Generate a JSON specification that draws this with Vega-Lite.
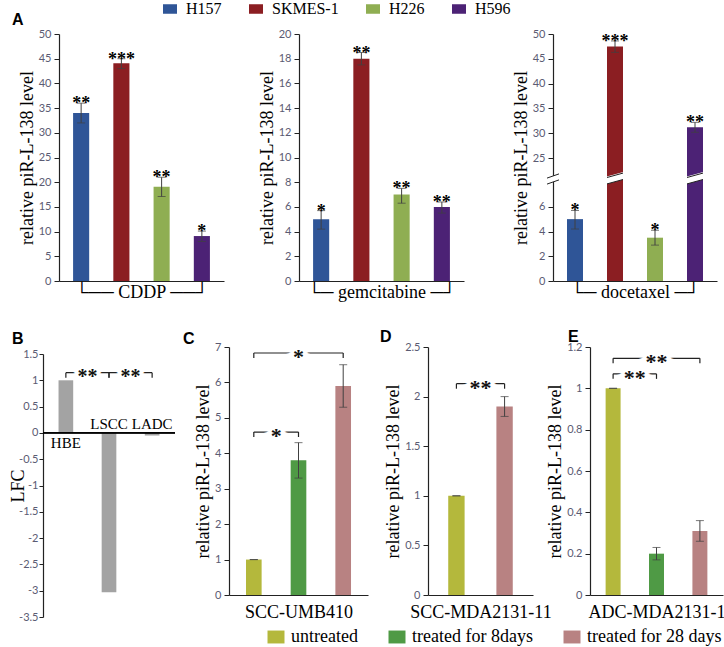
{
  "$schema": "https://vega.github.io/schema/vega-lite/v6.json",
  "padding": {"left": 9, "top": 1, "right": 0, "bottom": 0},
  "spacing": 28,
  "resolve": {"scale": {"color": "independent"}, "legend": {"color": "independent"}},
  "datasets": {
    "a": [
      {"drug": "CDDP", "line": "H157", "value": 34, "lo": 32, "hi": 36, "sig": "**"},
      {"drug": "CDDP", "line": "SKMES-1", "value": 44.1, "lo": 43, "hi": 45, "sig": "***"},
      {"drug": "CDDP", "line": "H226", "value": 19.1, "lo": 17.1, "hi": 21, "sig": "**"},
      {"drug": "CDDP", "line": "H596", "value": 9.1, "lo": 8, "hi": 10.1, "sig": "*"},
      {"drug": "gemcitabine", "line": "H157", "value": 5, "lo": 4.2, "hi": 5.7, "sig": "*"},
      {"drug": "gemcitabine", "line": "SKMES-1", "value": 18, "lo": 17.5, "hi": 18.5, "sig": "**"},
      {"drug": "gemcitabine", "line": "H226", "value": 7, "lo": 6.3, "hi": 7.5, "sig": "**"},
      {"drug": "gemcitabine", "line": "H596", "value": 6, "lo": 5.5, "hi": 6.4, "sig": "**"},
      {"drug": "docetaxel", "line": "H157", "value": 5, "lo": 4.2, "hi": 5.7, "sig": "*"},
      {"drug": "docetaxel", "line": "SKMES-1", "value": 47.5, "lo": 46.3, "hi": 48.6, "sig": "***"},
      {"drug": "docetaxel", "line": "H226", "value": 3.5, "lo": 2.9, "hi": 4.1, "sig": "*"},
      {"drug": "docetaxel", "line": "H596", "value": 31.2, "lo": 30.2, "hi": 32.2, "sig": "**"}
    ],
    "b": [
      {"group": "HBE", "lfc": 1},
      {"group": "LSCC", "lfc": -3.03},
      {"group": "LADC", "lfc": -0.05}
    ],
    "cde": [
      {"cell": "C", "treat": "untreated", "value": 1, "lo": 1, "hi": 1},
      {"cell": "C", "treat": "treated for 8days", "value": 3.8, "lo": 3.3, "hi": 4.3},
      {"cell": "C", "treat": "treated for 28 days", "value": 5.9, "lo": 5.3, "hi": 6.5},
      {"cell": "D", "treat": "untreated", "value": 1, "lo": 1, "hi": 1},
      {"cell": "D", "treat": "treated for 28 days", "value": 1.9, "lo": 1.8, "hi": 2.0},
      {"cell": "E", "treat": "untreated", "value": 1, "lo": 1, "hi": 1},
      {"cell": "E", "treat": "treated for 8days", "value": 0.2, "lo": 0.17, "hi": 0.23},
      {"cell": "E", "treat": "treated for 28 days", "value": 0.31, "lo": 0.26, "hi": 0.36}
    ],
    "brk": [
      {"panel": "B", "from": "HBE", "to": "LSCC", "level": 1.145, "sig": "**"},
      {"panel": "B", "from": "LSCC", "to": "LADC", "level": 1.145, "sig": "**"},
      {"panel": "C", "from": "untreated", "to": "treated for 28 days", "level": 6.83, "sig": "*"},
      {"panel": "C", "from": "untreated", "to": "treated for 8days", "level": 4.6, "sig": "*"},
      {"panel": "D", "from": "untreated", "to": "treated for 28 days", "level": 2.13, "sig": "**"},
      {"panel": "E", "from": "untreated", "to": "treated for 28 days", "level": 1.145, "sig": "**"},
      {"panel": "E", "from": "untreated", "to": "treated for 8days", "level": 1.07, "sig": "**"}
    ]
  },
  "vconcat": [
    {
      "bounds": "flush",
      "spacing": 15,
      "hconcat": [
        {"width": 1, "height": 10, "data": {"values": [{"k": 0}]}, "mark": {"type": "point", "opacity": 0}, "encoding": {}},
        {
          "width": 225, "height": 247,
          "title": {"text": "A", "anchor": "start", "frame": "group", "dx": -47, "offset": -13, "baseline": "alphabetic"},
          "data": {"name": "a"},
          "transform": [{"filter": "datum.drug === 'CDDP'"}],
          "encoding": {
            "x": {"field": "line", "type": "nominal", "scale": {"domain": ["H157", "SKMES-1", "H226", "H596"], "range": [0, 165], "paddingInner": 0.6, "paddingOuter": 0.35}, "axis": {"title": "└── CDDP ──┘", "labels": false, "ticks": false, "titlePadding": 2}}
          },
          "layer": [
            {"mark": {"type": "bar"}, "encoding": {
              "y": {"field": "value", "type": "quantitative", "title": "relative piR-L-138 level", "scale": {"domain": [0, 50], "nice": false}, "axis": {"values": [0, 5, 10, 15, 20, 25, 30, 35, 40, 45, 50], "format": "d"}},
              "color": {"field": "line", "type": "nominal", "scale": {"domain": ["H157", "SKMES-1", "H226", "H596"], "range": ["#2f5597", "#8b1e22", "#8fae52", "#4c2275"]},
                "legend": {"orient": "none", "legendX": 119, "legendY": -33, "direction": "horizontal", "columns": 4, "title": null, "symbolType": "M-1,-0.68H1V0.68H-1Z", "symbolSize": 196, "symbolStrokeWidth": 0, "labelFont": "Liberation Serif", "labelFontSize": 16, "labelColor": "#000", "labelOffset": 8, "columnPadding": 26, "padding": 0}}}},
            {"mark": {"type": "rule", "color": "#404040"}, "encoding": {"y": {"field": "lo", "type": "quantitative"}, "y2": {"field": "hi"}}},
            {"mark": {"type": "tick", "color": "#404040", "size": 8, "thickness": 1}, "encoding": {"y": {"field": "lo", "type": "quantitative"}}},
            {"mark": {"type": "tick", "color": "#404040", "size": 8, "thickness": 1}, "encoding": {"y": {"field": "hi", "type": "quantitative"}}},
            {"mark": {"type": "text", "font": "Liberation Serif", "fontSize": 18, "fontWeight": "bold", "baseline": "alphabetic", "dy": 6}, "encoding": {"y": {"field": "hi", "type": "quantitative"}, "text": {"field": "sig"}}}
          ]
        },
        {
          "width": 239, "height": 247,
          "data": {"name": "a"},
          "transform": [{"filter": "datum.drug === 'gemcitabine'"}],
          "encoding": {
            "x": {"field": "line", "type": "nominal", "scale": {"domain": ["H157", "SKMES-1", "H226", "H596"], "range": [0, 165], "paddingInner": 0.6, "paddingOuter": 0.35}, "axis": {"title": "└─ gemcitabine ─┘", "labels": false, "ticks": false, "titlePadding": 2}}
          },
          "layer": [
            {"mark": {"type": "bar"}, "encoding": {
              "y": {"field": "value", "type": "quantitative", "title": "relative piR-L-138 level", "scale": {"domain": [0, 20], "nice": false}, "axis": {"values": [0, 2, 4, 6, 8, 10, 12, 14, 16, 18, 20], "format": "d"}},
              "color": {"field": "line", "type": "nominal", "scale": {"domain": ["H157", "SKMES-1", "H226", "H596"], "range": ["#2f5597", "#8b1e22", "#8fae52", "#4c2275"]},
                "legend": {"orient": "none", "legendX": 119, "legendY": -33, "direction": "horizontal", "columns": 4, "title": null, "symbolType": "M-1,-0.68H1V0.68H-1Z", "symbolSize": 196, "symbolStrokeWidth": 0, "labelFont": "Liberation Serif", "labelFontSize": 16, "labelColor": "#000", "labelOffset": 8, "columnPadding": 26, "padding": 0}}}},
            {"mark": {"type": "rule", "color": "#404040"}, "encoding": {"y": {"field": "lo", "type": "quantitative"}, "y2": {"field": "hi"}}},
            {"mark": {"type": "tick", "color": "#404040", "size": 8, "thickness": 1}, "encoding": {"y": {"field": "lo", "type": "quantitative"}}},
            {"mark": {"type": "tick", "color": "#404040", "size": 8, "thickness": 1}, "encoding": {"y": {"field": "hi", "type": "quantitative"}}},
            {"mark": {"type": "text", "font": "Liberation Serif", "fontSize": 18, "fontWeight": "bold", "baseline": "alphabetic", "dy": 6}, "encoding": {"y": {"field": "hi", "type": "quantitative"}, "text": {"field": "sig"}}}
          ]
        },
        {
          "width": 164, "height": 247,
          "data": {"name": "a"},
          "transform": [{"filter": "datum.drug === 'docetaxel'"}],
          "encoding": {
            "x": {"field": "line", "type": "nominal", "scale": {"domain": ["H157", "SKMES-1", "H226", "H596"], "paddingInner": 0.6, "paddingOuter": 0.35}, "axis": {"title": "└─ docetaxel ─┘", "labels": false, "ticks": false, "titlePadding": 2}}
          },
          "layer": [
            {"mark": {"type": "bar"}, "encoding": {
              "y": {"field": "value", "type": "quantitative", "title": "relative piR-L-138 level", "scale": {"domain": [0, 8, 22, 50], "range": [247, 148, 139, 0], "nice": false, "zero": false}, "axis": {"values": [0, 2, 4, 6, 25, 30, 35, 40, 45, 50], "format": "d"}},
              "color": {"field": "line", "type": "nominal", "scale": {"domain": ["H157", "SKMES-1", "H226", "H596"], "range": ["#2f5597", "#8b1e22", "#8fae52", "#4c2275"]},
                "legend": {"orient": "none", "legendX": 119, "legendY": -33, "direction": "horizontal", "columns": 4, "title": null, "symbolType": "M-1,-0.68H1V0.68H-1Z", "symbolSize": 196, "symbolStrokeWidth": 0, "labelFont": "Liberation Serif", "labelFontSize": 16, "labelColor": "#000", "labelOffset": 8, "columnPadding": 26, "padding": 0}}}},
            {"transform": [{"filter": "datum.value > 22"}], "mark": {"type": "point", "shape": "M-1,-0.05L1,-0.6L1,0.15L-1,0.7Z", "size": 400, "filled": true, "color": "white", "opacity": 1, "strokeWidth": 0}, "encoding": {"y": {"datum": 15, "type": "quantitative"}}},
            {"transform": [{"filter": "datum.value > 22"}], "mark": {"type": "point", "shape": "M-0.8,-0.0L0.8,-0.44M-0.8,0.64L0.8,0.2", "size": 400, "filled": false, "color": "#222", "opacity": 1, "strokeWidth": 1}, "encoding": {"y": {"datum": 15, "type": "quantitative"}}},
            {"transform": [{"filter": "datum.line === 'H157'"}], "mark": {"type": "point", "shape": "M-1,0.1L1,-0.6L1,0.4L-1,1.1Z", "size": 144, "filled": true, "color": "white", "opacity": 1, "strokeWidth": 0}, "encoding": {"x": {"field": "line", "type": "nominal", "bandPosition": -0.875}, "y": {"datum": 15, "type": "quantitative"}}},
            {"transform": [{"filter": "datum.line === 'H157'"}], "mark": {"type": "point", "shape": "M-1,0.1L1,-0.6M-1,1.1L1,0.4", "size": 144, "filled": false, "color": "#222", "opacity": 1, "strokeWidth": 1}, "encoding": {"x": {"field": "line", "type": "nominal", "bandPosition": -0.875}, "y": {"datum": 15, "type": "quantitative"}}},
            {"mark": {"type": "rule", "color": "#404040"}, "encoding": {"y": {"field": "lo", "type": "quantitative"}, "y2": {"field": "hi"}}},
            {"mark": {"type": "tick", "color": "#404040", "size": 8, "thickness": 1}, "encoding": {"y": {"field": "lo", "type": "quantitative"}}},
            {"mark": {"type": "tick", "color": "#404040", "size": 8, "thickness": 1}, "encoding": {"y": {"field": "hi", "type": "quantitative"}}},
            {"mark": {"type": "text", "font": "Liberation Serif", "fontSize": 18, "fontWeight": "bold", "baseline": "alphabetic", "dy": 6}, "encoding": {"y": {"field": "hi", "type": "quantitative"}, "text": {"field": "sig"}}}
          ]
        }
      ]
    },
    {
      "bounds": "flush",
      "spacing": 54,
      "hconcat": [
        {
          "width": 132, "height": 270,
          "title": {"text": "B", "anchor": "start", "frame": "group", "dx": -31, "offset": -13, "baseline": "alphabetic"},
          "layer": [
            {"data": {"name": "b"}, "mark": {"type": "bar", "color": "#a3a3a3"}, "encoding": {
              "x": {"field": "group", "type": "nominal", "scale": {"domain": ["HBE", "LSCC", "LADC"], "paddingInner": 0.66, "paddingOuter": 0.36}, "axis": null},
              "y": {"field": "lfc", "type": "quantitative", "title": "LFC", "scale": {"domain": [-3.5, 1.5], "range": [270, 7], "nice": false, "zero": false}, "axis": {"values": [-3.5, -3, -2.5, -2, -1.5, -1, -0.5, 0, 0.5, 1, 1.5], "format": ".2~g", "tickSize": 4, "labelPadding": 1, "titlePadding": -9}}}},
            {"data": {"name": "b"}, "mark": {"type": "rule", "color": "#000", "strokeWidth": 1.2}, "encoding": {"y": {"datum": 0, "type": "quantitative"}}},
            {"data": {"name": "b"}, "transform": [{"filter": "datum.lfc > 0"}], "mark": {"type": "text", "baseline": "top", "dy": 3, "font": "Liberation Serif", "fontSize": 15}, "encoding": {
              "x": {"field": "group", "type": "nominal", "axis": null},
              "y": {"datum": 0, "type": "quantitative"}, "text": {"field": "group"}}},
            {"data": {"name": "b"}, "transform": [{"filter": "datum.lfc < 0"}], "mark": {"type": "text", "baseline": "bottom", "dy": -1, "font": "Liberation Serif", "fontSize": 15}, "encoding": {
              "x": {"field": "group", "type": "nominal", "axis": null},
              "y": {"datum": 0, "type": "quantitative"}, "text": {"field": "group"}}},
            {"data": {"name": "brk"}, "transform": [{"filter": "datum.panel === 'B'"}], "mark": {"type": "rule", "color": "#222", "strokeWidth": 1.2}, "encoding": {
              "x": {"field": "from", "type": "nominal", "axis": null}, "x2": {"field": "to"}, "y": {"field": "level", "type": "quantitative"}}},
            {"data": {"name": "brk"}, "transform": [{"filter": "datum.panel === 'B'"}], "mark": {"type": "point", "shape": "M0,0L0,1", "size": 100, "filled": false, "color": "#222", "opacity": 1, "strokeWidth": 1.2}, "encoding": {
              "x": {"field": "from", "type": "nominal", "axis": null}, "y": {"field": "level", "type": "quantitative"}}},
            {"data": {"name": "brk"}, "transform": [{"filter": "datum.panel === 'B'"}], "mark": {"type": "point", "shape": "M0,0L0,1", "size": 100, "filled": false, "color": "#222", "opacity": 1, "strokeWidth": 1.2}, "encoding": {
              "x": {"field": "to", "type": "nominal", "axis": null}, "y": {"field": "level", "type": "quantitative"}}},
            {"data": {"name": "brk"}, "transform": [{"filter": "datum.panel === 'B'"}], "mark": {"type": "text", "font": "Liberation Serif", "fontSize": 20, "fontWeight": "bold", "baseline": "alphabetic", "dy": 10, "color": "white", "stroke": "white", "strokeWidth": 6}, "encoding": {
              "x": {"field": "from", "type": "nominal", "axis": null, "bandPosition": 1.97}, "y": {"field": "level", "type": "quantitative"}, "text": {"field": "sig"}}},
            {"data": {"name": "brk"}, "transform": [{"filter": "datum.panel === 'B'"}], "mark": {"type": "text", "font": "Liberation Serif", "fontSize": 20, "fontWeight": "bold", "baseline": "alphabetic", "dy": 10, "color": "#111"}, "encoding": {
              "x": {"field": "from", "type": "nominal", "axis": null, "bandPosition": 1.97}, "y": {"field": "level", "type": "quantitative"}, "text": {"field": "sig"}}}
          ]
        },
        {
          "width": 145, "height": 248,
          "title": {"text": "C", "anchor": "start", "frame": "group", "dx": -46, "offset": -19, "baseline": "alphabetic"},
          "layer": [
            {"data": {"name": "cde"}, "transform": [{"filter": "datum.cell === 'C'"}], "mark": {"type": "bar"}, "encoding": {
              "x": {"field": "treat", "type": "nominal", "title": "SCC-UMB410", "scale": {"domain": ["untreated", "treated for 8days", "treated for 28 days"], "range": [0, 139], "paddingInner": 0.65, "paddingOuter": 0.38}, "axis": {"labels": false, "ticks": false, "titlePadding": 8}},
              "y": {"field": "value", "type": "quantitative", "title": "relative piR-L-138 level", "scale": {"domain": [0, 7], "nice": false}, "axis": {"values": [0, 1, 2, 3, 4, 5, 6, 7], "format": "d"}},
              "color": {"field": "treat", "type": "nominal", "scale": {"domain": ["untreated", "treated for 8days", "treated for 28 days"], "range": ["#b4b83c", "#4f9a45", "#b88282"]},
                "legend": {"orient": "none", "legendX": 224, "legendY": 281, "direction": "horizontal", "columns": 3, "title": null, "symbolType": "M-1,-0.76H1V0.76H-1Z", "symbolSize": 289, "symbolStrokeWidth": 0, "labelFont": "Liberation Serif", "labelFontSize": 18, "labelColor": "#000", "labelOffset": 6, "columnPadding": 30, "padding": 0, "labelLimit": 300}}}},
            {"data": {"name": "cde"}, "transform": [{"filter": "datum.cell === 'C'"}], "mark": {"type": "rule", "color": "#404040"}, "encoding": {"x": {"field": "treat", "type": "nominal"}, "y": {"field": "lo", "type": "quantitative"}, "y2": {"field": "hi"}}},
            {"data": {"name": "cde"}, "transform": [{"filter": "datum.cell === 'C'"}], "mark": {"type": "tick", "color": "#404040", "size": 8, "thickness": 1}, "encoding": {"x": {"field": "treat", "type": "nominal"}, "y": {"field": "lo", "type": "quantitative"}}},
            {"data": {"name": "cde"}, "transform": [{"filter": "datum.cell === 'C'"}], "mark": {"type": "tick", "color": "#404040", "size": 8, "thickness": 1}, "encoding": {"x": {"field": "treat", "type": "nominal"}, "y": {"field": "hi", "type": "quantitative"}}},
            {"data": {"name": "brk"}, "transform": [{"filter": "datum.panel === 'C'"}], "mark": {"type": "rule", "color": "#222", "strokeWidth": 1.2}, "encoding": {
              "x": {"field": "from", "type": "nominal"}, "x2": {"field": "to"}, "y": {"field": "level", "type": "quantitative"}}},
            {"data": {"name": "brk"}, "transform": [{"filter": "datum.panel === 'C'"}], "mark": {"type": "point", "shape": "M0,0L0,1", "size": 100, "filled": false, "color": "#222", "opacity": 1, "strokeWidth": 1.2}, "encoding": {
              "x": {"field": "from", "type": "nominal"}, "y": {"field": "level", "type": "quantitative"}}},
            {"data": {"name": "brk"}, "transform": [{"filter": "datum.panel === 'C'"}], "mark": {"type": "point", "shape": "M0,0L0,1", "size": 100, "filled": false, "color": "#222", "opacity": 1, "strokeWidth": 1.2}, "encoding": {
              "x": {"field": "to", "type": "nominal"}, "y": {"field": "level", "type": "quantitative"}}},
            {"data": {"name": "brk"}, "transform": [{"filter": "datum.panel === 'C' && datum.to === 'treated for 8days'"}], "mark": {"type": "text", "font": "Liberation Serif", "fontSize": 22, "fontWeight": "bold", "baseline": "alphabetic", "dy": 11, "color": "white", "stroke": "white", "strokeWidth": 7}, "encoding": {
              "x": {"field": "from", "type": "nominal", "bandPosition": 1.929}, "y": {"field": "level", "type": "quantitative"}, "text": {"field": "sig"}}},
            {"data": {"name": "brk"}, "transform": [{"filter": "datum.panel === 'C' && datum.to === 'treated for 8days'"}], "mark": {"type": "text", "font": "Liberation Serif", "fontSize": 22, "fontWeight": "bold", "baseline": "alphabetic", "dy": 11, "color": "#111"}, "encoding": {
              "x": {"field": "from", "type": "nominal", "bandPosition": 1.929}, "y": {"field": "level", "type": "quantitative"}, "text": {"field": "sig"}}},
            {"data": {"name": "brk"}, "transform": [{"filter": "datum.panel === 'C' && datum.to === 'treated for 28 days'"}], "mark": {"type": "text", "font": "Liberation Serif", "fontSize": 22, "fontWeight": "bold", "baseline": "alphabetic", "dy": 11, "color": "white", "stroke": "white", "strokeWidth": 7}, "encoding": {
              "x": {"field": "from", "type": "nominal", "bandPosition": 3.357}, "y": {"field": "level", "type": "quantitative"}, "text": {"field": "sig"}}},
            {"data": {"name": "brk"}, "transform": [{"filter": "datum.panel === 'C' && datum.to === 'treated for 28 days'"}], "mark": {"type": "text", "font": "Liberation Serif", "fontSize": 22, "fontWeight": "bold", "baseline": "alphabetic", "dy": 11, "color": "#111"}, "encoding": {
              "x": {"field": "from", "type": "nominal", "bandPosition": 3.357}, "y": {"field": "level", "type": "quantitative"}, "text": {"field": "sig"}}}
          ]
        },
        {
          "width": 108, "height": 248,
          "title": {"text": "D", "anchor": "start", "frame": "group", "dx": -48, "offset": -17, "baseline": "alphabetic"},
          "layer": [
            {"data": {"name": "cde"}, "transform": [{"filter": "datum.cell === 'D'"}], "mark": {"type": "bar"}, "encoding": {
              "x": {"field": "treat", "type": "nominal", "title": "SCC-MDA2131-11", "scale": {"domain": ["untreated", "treated for 28 days"], "range": [0, 105], "paddingInner": 0.66, "paddingOuter": 0.42}, "axis": {"labels": false, "ticks": false, "titlePadding": 8}},
              "y": {"field": "value", "type": "quantitative", "title": "relative piR-L-138 level", "scale": {"domain": [0, 2.5], "nice": false}, "axis": {"values": [0, 0.5, 1, 1.5, 2, 2.5], "format": ".2~g"}},
              "color": {"field": "treat", "type": "nominal", "scale": {"domain": ["untreated", "treated for 8days", "treated for 28 days"], "range": ["#b4b83c", "#4f9a45", "#b88282"]},
                "legend": {"orient": "none", "legendX": 224, "legendY": 281, "direction": "horizontal", "columns": 3, "title": null, "symbolType": "M-1,-0.76H1V0.76H-1Z", "symbolSize": 289, "symbolStrokeWidth": 0, "labelFont": "Liberation Serif", "labelFontSize": 18, "labelColor": "#000", "labelOffset": 6, "columnPadding": 30, "padding": 0, "labelLimit": 300}}}},
            {"data": {"name": "cde"}, "transform": [{"filter": "datum.cell === 'D'"}], "mark": {"type": "rule", "color": "#404040"}, "encoding": {"x": {"field": "treat", "type": "nominal"}, "y": {"field": "lo", "type": "quantitative"}, "y2": {"field": "hi"}}},
            {"data": {"name": "cde"}, "transform": [{"filter": "datum.cell === 'D'"}], "mark": {"type": "tick", "color": "#404040", "size": 8, "thickness": 1}, "encoding": {"x": {"field": "treat", "type": "nominal"}, "y": {"field": "lo", "type": "quantitative"}}},
            {"data": {"name": "cde"}, "transform": [{"filter": "datum.cell === 'D'"}], "mark": {"type": "tick", "color": "#404040", "size": 8, "thickness": 1}, "encoding": {"x": {"field": "treat", "type": "nominal"}, "y": {"field": "hi", "type": "quantitative"}}},
            {"data": {"name": "brk"}, "transform": [{"filter": "datum.panel === 'D'"}], "mark": {"type": "rule", "color": "#222", "strokeWidth": 1.2}, "encoding": {
              "x": {"field": "from", "type": "nominal"}, "x2": {"field": "to"}, "y": {"field": "level", "type": "quantitative"}}},
            {"data": {"name": "brk"}, "transform": [{"filter": "datum.panel === 'D'"}], "mark": {"type": "point", "shape": "M0,0L0,1", "size": 100, "filled": false, "color": "#222", "opacity": 1, "strokeWidth": 1.2}, "encoding": {
              "x": {"field": "from", "type": "nominal"}, "y": {"field": "level", "type": "quantitative"}}},
            {"data": {"name": "brk"}, "transform": [{"filter": "datum.panel === 'D'"}], "mark": {"type": "point", "shape": "M0,0L0,1", "size": 100, "filled": false, "color": "#222", "opacity": 1, "strokeWidth": 1.2}, "encoding": {
              "x": {"field": "to", "type": "nominal"}, "y": {"field": "level", "type": "quantitative"}}},
            {"data": {"name": "brk"}, "transform": [{"filter": "datum.panel === 'D'"}], "mark": {"type": "text", "font": "Liberation Serif", "fontSize": 22, "fontWeight": "bold", "baseline": "alphabetic", "dy": 11, "color": "white", "stroke": "white", "strokeWidth": 7}, "encoding": {
              "x": {"field": "from", "type": "nominal", "bandPosition": 1.97}, "y": {"field": "level", "type": "quantitative"}, "text": {"field": "sig"}}},
            {"data": {"name": "brk"}, "transform": [{"filter": "datum.panel === 'D'"}], "mark": {"type": "text", "font": "Liberation Serif", "fontSize": 22, "fontWeight": "bold", "baseline": "alphabetic", "dy": 11, "color": "#111"}, "encoding": {
              "x": {"field": "from", "type": "nominal", "bandPosition": 1.97}, "y": {"field": "level", "type": "quantitative"}, "text": {"field": "sig"}}}
          ]
        },
        {
          "width": 133, "height": 248,
          "title": {"text": "E", "anchor": "start", "frame": "group", "dx": -22, "offset": -17, "baseline": "alphabetic"},
          "layer": [
            {"data": {"name": "cde"}, "transform": [{"filter": "datum.cell === 'E'"}], "mark": {"type": "bar"}, "encoding": {
              "x": {"field": "treat", "type": "nominal", "title": "ADC-MDA2131-1", "scale": {"domain": ["untreated", "treated for 8days", "treated for 28 days"], "paddingInner": 0.655, "paddingOuter": 0.36}, "axis": {"labels": false, "ticks": false, "titlePadding": 8}},
              "y": {"field": "value", "type": "quantitative", "title": "relative piR-L-138 level", "scale": {"domain": [0, 1.2], "nice": false}, "axis": {"values": [0, 0.2, 0.4, 0.6, 0.8, 1, 1.2], "format": ".2~g"}},
              "color": {"field": "treat", "type": "nominal", "scale": {"domain": ["untreated", "treated for 8days", "treated for 28 days"], "range": ["#b4b83c", "#4f9a45", "#b88282"]},
                "legend": {"orient": "none", "legendX": 224, "legendY": 281, "direction": "horizontal", "columns": 3, "title": null, "symbolType": "M-1,-0.76H1V0.76H-1Z", "symbolSize": 289, "symbolStrokeWidth": 0, "labelFont": "Liberation Serif", "labelFontSize": 18, "labelColor": "#000", "labelOffset": 6, "columnPadding": 30, "padding": 0, "labelLimit": 300}}}},
            {"data": {"name": "cde"}, "transform": [{"filter": "datum.cell === 'E'"}], "mark": {"type": "rule", "color": "#404040"}, "encoding": {"x": {"field": "treat", "type": "nominal"}, "y": {"field": "lo", "type": "quantitative"}, "y2": {"field": "hi"}}},
            {"data": {"name": "cde"}, "transform": [{"filter": "datum.cell === 'E'"}], "mark": {"type": "tick", "color": "#404040", "size": 8, "thickness": 1}, "encoding": {"x": {"field": "treat", "type": "nominal"}, "y": {"field": "lo", "type": "quantitative"}}},
            {"data": {"name": "cde"}, "transform": [{"filter": "datum.cell === 'E'"}], "mark": {"type": "tick", "color": "#404040", "size": 8, "thickness": 1}, "encoding": {"x": {"field": "treat", "type": "nominal"}, "y": {"field": "hi", "type": "quantitative"}}},
            {"data": {"name": "brk"}, "transform": [{"filter": "datum.panel === 'E'"}], "mark": {"type": "rule", "color": "#222", "strokeWidth": 1.2}, "encoding": {
              "x": {"field": "from", "type": "nominal"}, "x2": {"field": "to"}, "y": {"field": "level", "type": "quantitative"}}},
            {"data": {"name": "brk"}, "transform": [{"filter": "datum.panel === 'E'"}], "mark": {"type": "point", "shape": "M0,0L0,1", "size": 100, "filled": false, "color": "#222", "opacity": 1, "strokeWidth": 1.2}, "encoding": {
              "x": {"field": "from", "type": "nominal"}, "y": {"field": "level", "type": "quantitative"}}},
            {"data": {"name": "brk"}, "transform": [{"filter": "datum.panel === 'E'"}], "mark": {"type": "point", "shape": "M0,0L0,1", "size": 100, "filled": false, "color": "#222", "opacity": 1, "strokeWidth": 1.2}, "encoding": {
              "x": {"field": "to", "type": "nominal"}, "y": {"field": "level", "type": "quantitative"}}},
            {"data": {"name": "brk"}, "transform": [{"filter": "datum.panel === 'E' && datum.to === 'treated for 8days'"}], "mark": {"type": "text", "font": "Liberation Serif", "fontSize": 22, "fontWeight": "bold", "baseline": "alphabetic", "dy": 11, "color": "white", "stroke": "white", "strokeWidth": 7}, "encoding": {
              "x": {"field": "from", "type": "nominal", "bandPosition": 1.949}, "y": {"field": "level", "type": "quantitative"}, "text": {"field": "sig"}}},
            {"data": {"name": "brk"}, "transform": [{"filter": "datum.panel === 'E' && datum.to === 'treated for 8days'"}], "mark": {"type": "text", "font": "Liberation Serif", "fontSize": 22, "fontWeight": "bold", "baseline": "alphabetic", "dy": 11, "color": "#111"}, "encoding": {
              "x": {"field": "from", "type": "nominal", "bandPosition": 1.949}, "y": {"field": "level", "type": "quantitative"}, "text": {"field": "sig"}}},
            {"data": {"name": "brk"}, "transform": [{"filter": "datum.panel === 'E' && datum.to === 'treated for 28 days'"}], "mark": {"type": "text", "font": "Liberation Serif", "fontSize": 22, "fontWeight": "bold", "baseline": "alphabetic", "dy": 11, "color": "white", "stroke": "white", "strokeWidth": 7}, "encoding": {
              "x": {"field": "from", "type": "nominal", "bandPosition": 3.399}, "y": {"field": "level", "type": "quantitative"}, "text": {"field": "sig"}}},
            {"data": {"name": "brk"}, "transform": [{"filter": "datum.panel === 'E' && datum.to === 'treated for 28 days'"}], "mark": {"type": "text", "font": "Liberation Serif", "fontSize": 22, "fontWeight": "bold", "baseline": "alphabetic", "dy": 11, "color": "#111"}, "encoding": {
              "x": {"field": "from", "type": "nominal", "bandPosition": 3.399}, "y": {"field": "level", "type": "quantitative"}, "text": {"field": "sig"}}}
          ]
        }
      ]
    }
  ],
  "config": {
    "view": {"stroke": null},
    "font": "Liberation Serif",
    "title": {"font": "Liberation Sans", "fontSize": 16, "fontWeight": "bold", "color": "#000"},
    "axis": {"grid": false, "labelOverlap": false, "tickCount": 30, "domainColor": "#222", "domainWidth": 1.2, "tickColor": "#222", "tickSize": 5, "labelFont": "Lato", "labelFontSize": 11, "labelColor": "#5b5b73", "labelPadding": 3, "titleFont": "Liberation Serif", "titleFontSize": 18, "titleFontWeight": "normal", "titleColor": "#000", "titlePadding": 2},
    "locale": {"number": {"decimal": ".", "thousands": ",", "grouping": [3], "currency": ["$", ""], "minus": "-"}}
  }
}
